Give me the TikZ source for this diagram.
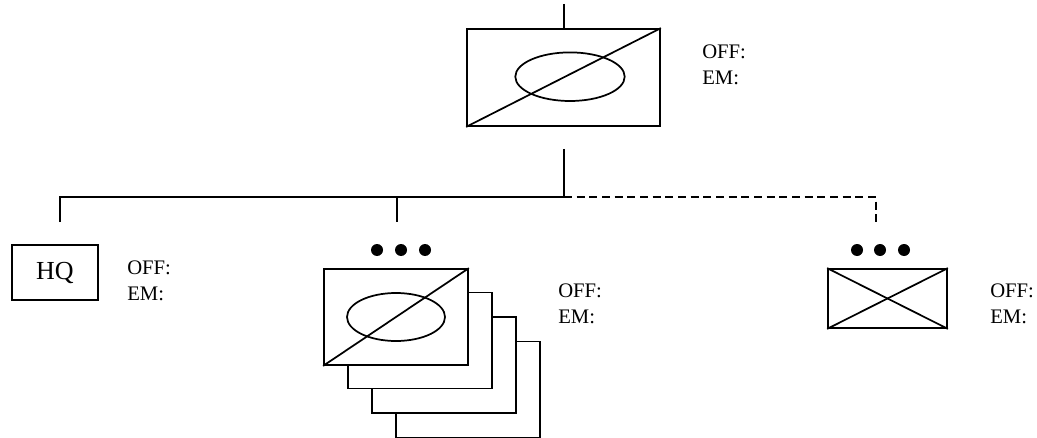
\documentclass[tikz,border=0pt]{standalone}
\usepackage{fontspec}
\setmainfont{Liberation Serif}
\begin{document}
\begin{tikzpicture}[x=0.75pt,y=-0.75pt,
  ln/.style={line width=1.3pt},
  unitbox/.style={draw,line width=1.3pt,rectangle,inner sep=0pt},
  lbl/.style={anchor=base west,inner sep=0pt,font=\fontsize{15.5}{18}\selectfont},
  dot/.style={circle,fill=black,inner sep=0pt,minimum size=9pt}]
\useasboundingbox (0,0) rectangle (1037,438);
% top unit
\node[unitbox,minimum width=144.75pt,minimum height=72.75pt] (top) at (563.5,77.5) {};
\draw[ln] (top.south west) -- (top.north east);
\draw[ln] (570,76.7) ellipse [x radius=54.7,y radius=24.3];
\coordinate (topin) at (564,4);
\draw[ln] (topin) -- (top.north -| topin);
\node[lbl] (offtop) at (702,59) {OFF:};
\node[lbl] (emtop) at (702,84.5) {EM:};
% bus
\coordinate (drop) at (564,149);
\coordinate (bus) at (564,197);
\coordinate (busL) at (60,197);
\coordinate (busM) at (397,197);
\coordinate (busR) at (876,197);
\coordinate (dL) at (60,222);
\coordinate (dM) at (397,222);
\coordinate (dR) at (876,222);
\draw[ln] (drop) -- (bus);
\draw[ln] (dL) -- (busL) -- (bus);
\draw[ln] (busM) -- (dM);
\draw[ln,dash pattern=on 6pt off 3.5pt] (bus) -- (busR) -- (dR);
% HQ
\node[unitbox,minimum width=64.5pt,minimum height=41.25pt,font=\fontsize{19.5}{22}\selectfont] (hq) at (55,272.5) {HQ};
\node[lbl] (offhq) at (127,274) {OFF:};
\node[lbl] (emhq) at (127,300) {EM:};
% middle stack
\node[unitbox,minimum width=108pt,minimum height=72pt] (m4) at (468,389.5) {};
\node[unitbox,fill=white,minimum width=108pt,minimum height=72pt] (m3) at (444,365) {};
\node[unitbox,fill=white,minimum width=108pt,minimum height=72pt] (m2) at (420,340.5) {};
\node[unitbox,fill=white,minimum width=108pt,minimum height=72pt] (m1) at (396,317) {};
\draw[ln] (m1.south west) -- (m1.north east);
\draw[ln] (396,317) ellipse [x radius=49,y radius=24];
\node[dot] (md1) at (377,250) {};
\node[dot] (md2) at (401,250) {};
\node[dot] (md3) at (425,250) {};
\node[lbl] (offm) at (558,297) {OFF:};
\node[lbl] (emm) at (558,323.5) {EM:};
% right unit
\node[unitbox,minimum width=89.25pt,minimum height=44.25pt] (r) at (887.5,298.5) {};
\draw[ln] (r.south west) -- (r.north east);
\draw[ln] (r.north west) -- (r.south east);
\node[dot] (rd1) at (857,250) {};
\node[dot] (rd2) at (880,250) {};
\node[dot] (rd3) at (904,250) {};
\node[lbl] (offr) at (990,297.5) {OFF:};
\node[lbl] (emr) at (990,323.5) {EM:};
\end{tikzpicture}
\end{document}
